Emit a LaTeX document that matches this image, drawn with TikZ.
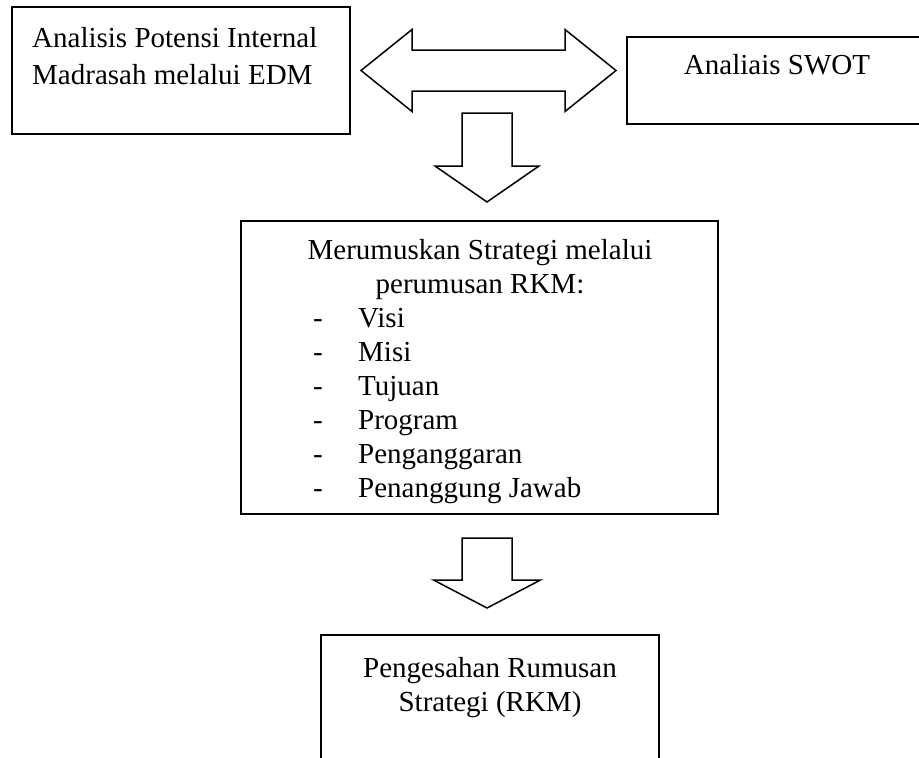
\documentclass[tikz,border=0pt]{standalone}
\usepackage{fontspec}
\setmainfont{Liberation Serif}

\tikzset{%
  every box/.style={
    draw,
    line width=2pt,
    inner sep=0pt
  },
  box text/.style={
    inner sep=0pt,
    font=\fontsize{29}{34}\selectfont
  },
  block arrow/.style={
    draw,
    line width=1.5pt,
    line join=miter
  },
}

\newcommand{\itemdash}{\makebox[45pt][l]{-}}

\begin{document}
\begin{tikzpicture}[x=1pt, y=-1pt]

\useasboundingbox (0,0) rectangle (919,758);

% TOP boxes
\node [every box, minimum width=338pt, minimum height=127pt]
  (edm) at (181,70.5) {};
\node [every box, minimum width=360pt, minimum height=87pt]
  (swot) at (807,80.5) {};

% MIDDLE box
\node [every box, minimum width=477pt, minimum height=293pt]
  (rkm) at (479.5,367.5) {};

% BOTTOM box
\node [every box, minimum width=338pt, minimum height=165pt]
  (sah) at (490,717.5) {};

% Box texts
\node [box text, align=left, anchor=north west,
  font=\fontsize{29}{37}\selectfont]
  (edm-text) at (32,27) {Analisis Potensi Internal\\Madrasah melalui EDM};
\node [box text, anchor=base] (swot-text) at (777,74) {Analiais SWOT};
\node [box text, align=center, anchor=north]
  (rkm-title) at (480,239) {Merumuskan Strategi melalui\\perumusan RKM:};
\node [box text, align=left, anchor=north west]
  (rkm-list) at (313,308) {\itemdash Visi\\\itemdash Misi\\\itemdash Tujuan\\
    \itemdash Program\\\itemdash Penganggaran\\\itemdash Penanggung Jawab};
\node [box text, align=center, anchor=north]
  (sah-text) at (490,657) {Pengesahan Rumusan\\Strategi (RKM)};

% Arrow tips
\coordinate (tipA) at (487,202);
\coordinate (tipB) at (487,608);

% Double arrow: edm <-> swot
\draw [block arrow] ([xshift=10pt]edm.east) -- ++(51,-41) -- ++(0,20.5)
  -- ++(153,0) -- ++(0,-20.5) -- ++(51,41) -- ++(-51,41) -- ++(0,-20.5)
  -- ++(-153,0) -- ++(0,20.5) -- cycle;

% Down arrow: top -> rkm
\draw [block arrow] (tipA) -- ++(-52,-36) -- ++(27,0) -- ++(0,-53)
  -- ++(50,0) -- ++(0,53) -- ++(27,0) -- cycle;

% Down arrow: rkm -> sah
\draw [block arrow] (tipB) -- ++(-53.5,-28) -- ++(28.5,0) -- ++(0,-42)
  -- ++(50,0) -- ++(0,42) -- ++(28.5,0) -- cycle;

\end{tikzpicture}
\end{document}
